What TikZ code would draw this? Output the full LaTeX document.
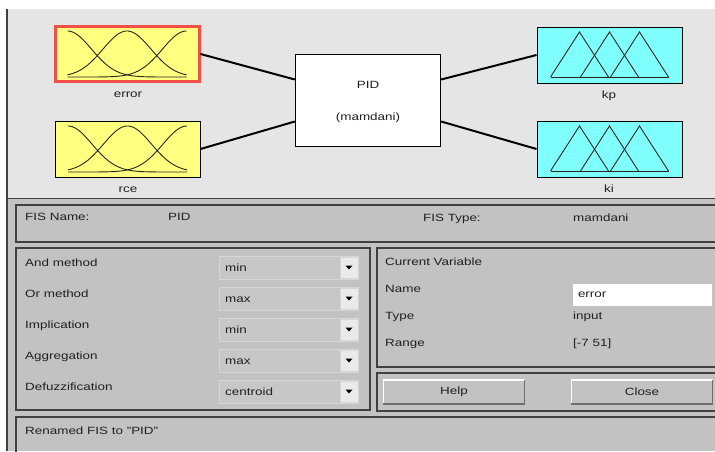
\documentclass[tikz,border=0pt]{standalone}
\usepackage{fontspec}
\setmainfont[FakeStretch=1.28]{Liberation Sans}
\usetikzlibrary{calc}

\definecolor{topgray}{RGB}{229,229,229}
\definecolor{panelgray}{RGB}{194,194,194}
\definecolor{framegray}{RGB}{64,64,64}
\definecolor{textgray}{RGB}{32,32,32}
\definecolor{mfyellow}{RGB}{255,255,128}
\definecolor{mfcyan}{RGB}{128,255,255}
\definecolor{selred}{RGB}{240,80,70}
\definecolor{mfdark}{RGB}{40,40,30}
\definecolor{ddfill}{RGB}{199,199,199}
\definecolor{ddedge}{RGB}{214,214,214}
\definecolor{ddarrow}{RGB}{234,234,234}
\definecolor{btndark}{RGB}{110,110,110}

\begin{document}
\begin{tikzpicture}[x=1pt,y=-1pt,font=\fontsize{10.5}{12.6}\selectfont,
  varbox/.style={draw=black,line width=1pt,minimum width=145pt,minimum height=56pt,inner sep=0pt},
  inbox/.style={varbox,fill=mfyellow},
  outbox/.style={varbox,fill=mfcyan},
  mfline/.style={draw=mfdark,line width=0.9pt},
  wire/.style={line width=2pt,black},
  panel/.style={draw=framegray,line width=1.3pt},
  lbl/.style={text=textgray,anchor=west,inner sep=0pt,text height=7.5pt,text depth=2pt},
  clbl/.style={lbl,anchor=center},
  dropbox/.style={draw=ddedge,fill=ddfill,line width=0.8pt,minimum width=139pt,minimum height=23pt,inner sep=0pt},
  droparrow/.style={draw=ddedge,fill=ddarrow,line width=0.8pt,minimum width=18pt,minimum height=21pt,inner sep=0pt},
  button/.style={fill=panelgray,minimum width=141pt,minimum height=24pt,inner sep=0pt,text=textgray}]
\useasboundingbox (0,0) rectangle (715,451);
\clip (0,0) rectangle (715,451);
\fill[white] (0,0) rectangle (715,451);

% window panes
\fill[topgray] (7,9) rectangle (715,198);
\fill[panelgray] (7,198) rectangle (715,451);
\draw[framegray,line width=1.5pt] (7,9) -- (7,451);
\draw[framegray,line width=1.5pt] (7,198.5) -- (715,198.5);

% variables and system
\node[inbox,draw=selred,line width=3pt,minimum width=144pt,minimum height=55pt] (error) at (127,54) {};
\node[inbox] (rce) at (127.5,149) {};
\node[outbox] (kp) at (609.5,55) {};
\node[outbox] (ki) at (609.5,149) {};
\node[draw=black,fill=white,line width=1.3pt,minimum width=145pt,minimum height=92pt] (pid) at (368,100.5) {};
\node[clbl] (pidname) at (368,86) {PID};
\node[clbl] (pidtype) at (368,118) {(mamdani)};

\node[clbl] (errorlbl) at (128,95) {error};
\node[clbl] (rcelbl) at (128,190) {rce};
\node[clbl] (kplbl) at (609,96) {kp};
\node[clbl] (kilbl) at (609,190) {ki};

\foreach \v in {error,rce} {
  \begin{scope}[shift={(\v.center)}]
    \foreach \c in {-59.5,0,59.5}
      \draw[mfline] plot[domain=-59.5:59.5,samples=60,smooth] (\x,{23-46*exp(-((\x-(\c))*(\x-(\c)))/1152)});
  \end{scope}
}
\foreach \v in {kp,ki} {
  \begin{scope}[shift={(\v.center)}]
    \draw[mfline] (-59,22) -- (59,22);
    \foreach \c in {-30,0,30}
      \draw[mfline,line join=miter] (\c-29,22) -- (\c,-23) -- (\c+29,22);
  \end{scope}
}

\draw[wire] (error.east) -- ($(pid.west)+(0,-21)$);
\draw[wire] (rce.east) -- ($(pid.west)+(0,21)$);
\draw[wire] ($(pid.east)+(0,-21)$) -- (kp.west);
\draw[wire] ($(pid.east)+(0,21)$) -- (ki.west);

% lower panels
\draw[panel] (16,205) rectangle (730,242);
\draw[panel] (16,248) rectangle (370,410);
\draw[panel] (377,248) rectangle (730,367);
\draw[panel] (377,373) rectangle (730,411);
\draw[panel] (16,417) rectangle (730,470);

\node[lbl] (fisname) at (25,218) {FIS Name:};
\node[lbl] (fisnameval) at (168,218) {PID};
\node[lbl] (fistype) at (423,219) {FIS Type:};
\node[lbl] (fistypeval) at (573,219) {mamdani};

\foreach \lab/\val [count=\i] in {And method/min,Or method/max,Implication/min,Aggregation/max,Defuzzification/centroid} {
  \pgfmathsetmacro\yy{236.5+31*\i}
  \node[lbl] (meth\i) at (25,\yy-4) {\lab};
  \node[dropbox] (dd\i) at (288.5,\yy) {};
  \node[droparrow] (arr\i) at (349,\yy) {};
  \fill[black] ($(arr\i.center)+(-3.5,-2)$) -- ++(7,0) -- ++(-3.5,4) -- cycle;
  \node[lbl] (ddval\i) at (225,\yy+1) {\val};
}

\node[lbl] (curvar) at (385,263) {Current Variable};
\node[lbl] (namelbl) at (385,290) {Name};
\node[fill=white,text=textgray,minimum height=22pt,text width=129pt,inner xsep=5pt,inner ysep=0pt,align=left,text height=7.5pt,text depth=2pt] (namefield) at (642.5,295) {error};
\node[lbl] (typelbl) at (385,317) {Type};
\node[lbl] (typeval) at (573,317) {input};
\node[lbl] (rangelbl) at (385,344) {Range};
\node[lbl] (rangeval) at (573,344) {[-7 51]};

\node[button] (help) at (454,392) {Help};
\node[button] (close) at (642,392) {Close};
\foreach \b in {help,close} {
  \draw[white,line width=1.5pt] (\b.south west) |- (\b.north east);
  \draw[btndark,line width=1.5pt] (\b.south west) -| (\b.north east);
}

\node[lbl] (status) at (25,432) {Renamed FIS to "PID"};
\end{tikzpicture}
\end{document}
